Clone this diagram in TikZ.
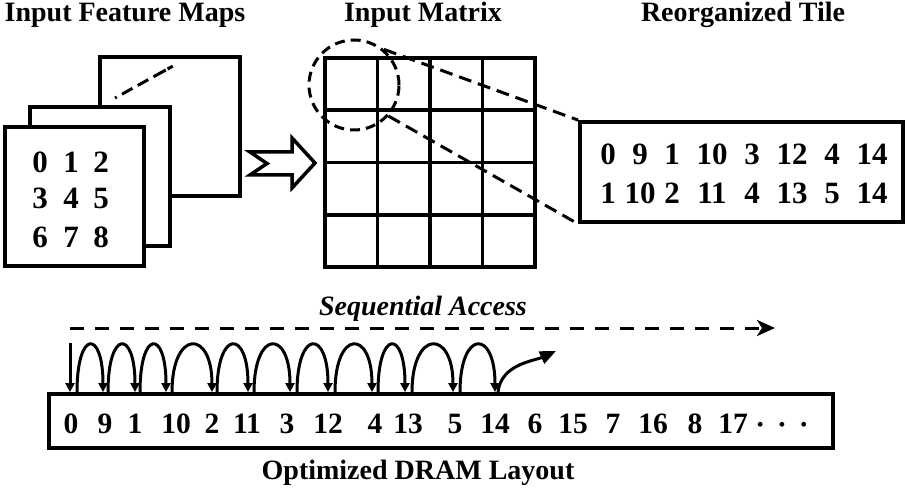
\documentclass[tikz,border=0pt]{standalone}
\usepackage{fontspec}
\setmainfont{Liberation Serif}
\usetikzlibrary{calc,arrows.meta}

\begin{document}
\begin{tikzpicture}[x=1pt, y=-1pt,
    ttl/.style={font=\fontsize{28}{30}\selectfont\bfseries, inner sep=0pt},
    fnum/.style={font=\fontsize{31}{31}\selectfont\bfseries, inner sep=0pt, anchor=base},
    tnum/.style={font=\fontsize{31}{31}\selectfont\bfseries, inner sep=0pt, anchor=base},
    dnum/.style={font=\fontsize{29.5}{29.5}\selectfont\bfseries, inner sep=0pt, anchor=base},
    boxline/.style={line width=3.8pt, black},
    hop/.style={line width=3pt, black, -{Triangle[length=9pt,width=9pt]}}]
\useasboundingbox (0,0) rectangle (907,494);

\node[ttl] (t1) at (125,15) {Input Feature Maps};
\node[ttl] (t2) at (423,15) {Input Matrix};
\node[ttl] (t3) at (743,15) {Reorganized Tile};

% feature maps
\draw[boxline, fill=white] (100,57) rectangle (240,196);
\draw[line width=3pt, dash pattern=on 2pt off 6pt on 12pt off 6pt on 12pt off 6pt on 14pt] (115,98) -- (173,66);
\draw[boxline, fill=white] (30,107) rectangle (170,246);
\draw[boxline, fill=white] (5,127) rectangle (144,266);
\foreach \r/\y in {0/172.5, 1/208.5, 2/247.5}
    \foreach \c/\x in {0/40, 1/71, 2/101} {
        \pgfmathtruncatemacro\v{3*\r+\c}
        \node[fnum] (f\v) at (\x,\y) {\v};}

\draw[line width=3.5pt, fill=white, line join=miter] (250,152) -- (292,152) -- (292,138) -- (315,163)
    -- (292,188) -- (292,175) -- (250,175) -- (267,163.5) -- cycle;

% input matrix
\node[draw, boxline, minimum width=210, minimum height=209, inner sep=0pt] (mat) at (430,162.5) {};
\foreach \i in {1,2,3} {
    \draw[boxline] (325+52.5*\i,58) -- (325+52.5*\i,267);
    \draw[boxline] (325,58+52.25*\i) -- (535,58+52.25*\i);}
\node[circle, draw, line width=3pt, dash pattern=on 10pt off 6pt, minimum size=90, inner sep=0pt] (zoom) at (354,85) {};

% reorganized tile
\node[draw, boxline, minimum width=323, minimum height=100, inner sep=0pt] (tile) at (741.5,172) {};
\draw[line width=3pt, dash pattern=on 13pt off 7pt] (zoom.50) -- (tile.north west);
\draw[line width=3pt, dash pattern=on 13pt off 7pt] (zoom.-42) -- (tile.south west);
\foreach \x/\a/\b [count=\k] in {608/0/1, 640/9/10, 672/1/2, 712/10/11, 752/3/4, 792/12/13, 832/4/5, 872/14/14} {
    \node[tnum] (a\k) at (\x,164.5) {\a};
    \node[tnum] (b\k) at (\x,203.5) {\b};}

% dram layout
\node[font=\fontsize{28}{28}\selectfont\bfseries\itshape, inner sep=0pt] (seq) at (423,309) {Sequential Access};
\coordinate (s0) at (70,328);
\coordinate (s1) at (775,328);
\draw[line width=3pt, dash pattern=on 14pt off 11pt, -{Stealth[length=18pt,width=16pt,inset=5pt]}] (s0) -- (s1);

\node[draw, boxline, minimum width=784, minimum height=54, inner sep=0pt] (dram) at (441,421) {};
\foreach \x/\v [count=\k from 0] in {71/0, 105/9, 135/1, 176/10, 212/2, 247/11, 287/3, 328/12, 375/4, 408/13,
        455/5, 495/14, 535/6, 573/15, 613/7, 653/16, 695/8, 733/17}
    \node[dnum] (d\k) at (\x,433) {\v};
\node[dnum] (dots) at (782,434) {·\hspace{12pt}·\hspace{12pt}·};
\node[ttl] (t4) at (418,473) {Optimized DRAM Layout};

\coordinate (in0) at (70,343);
\draw[hop] (in0) -- ($(d0.center |- dram.north)+(-1,0)$);
\foreach \i/\j/\a/\b in {0/1/6/-2, 1/2/3/0, 2/3/5/-10, 3/4/-4/0, 4/5/5/1, 5/6/7/3, 6/7/10/0,
        7/8/7/-3, 8/9/3/-3, 9/10/4/-2, 10/11/5/0}
    \draw[hop] ($(d\i.center |- dram.north)+(\a,0)$) .. controls +(0,-63) and +(0,-63) .. ($(d\j.center |- dram.north)+(\b,0)$);
\coordinate (out) at (556,351);
\draw[line width=3pt, -{Triangle[length=16pt,width=13pt]}] ($(d11.center |- dram.north)+(3,0)$) .. controls +(3,-28) and +(-22,10) .. (out);
\end{tikzpicture}
\end{document}
